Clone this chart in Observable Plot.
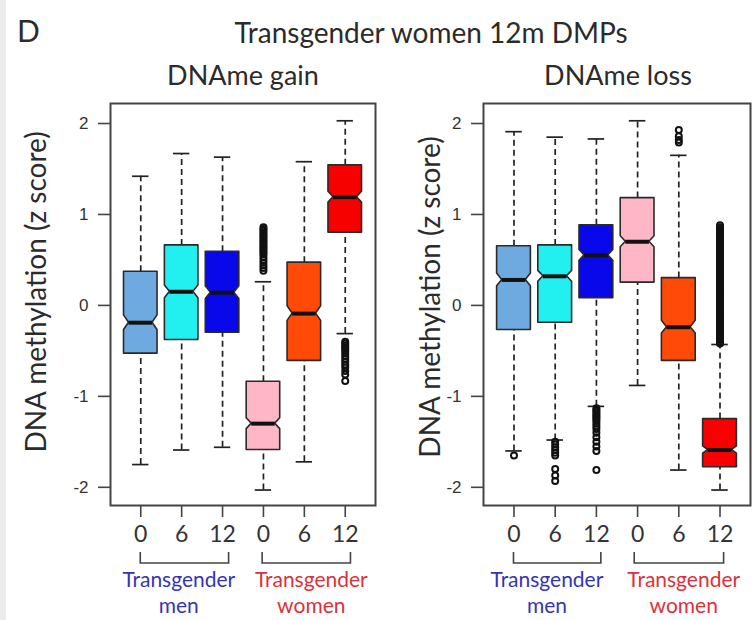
<!DOCTYPE html>
<html>
<head>
<meta charset="utf-8">
<script src="https://cdn.jsdelivr.net/npm/d3@7"></script>
<script src="https://cdn.jsdelivr.net/npm/@observablehq/plot@0.6"></script>
<style>
  body { margin: 0; background: #fff; }
  #wrap { position: relative; width: 755px; height: 620px; overflow: hidden; background: #fff; }
  #edge { position: absolute; left: 0; top: 0; width: 6px; height: 620px; background: #ececec; }
  #left { position: absolute; left: 0; top: 0; }
  #right { position: absolute; left: 380px; top: 0; }
  #overlay { position: absolute; left: 0; top: 0; pointer-events: none; }
  .panel svg g[aria-label^="y-axis"] text { font-family: "Liberation Sans", Arial, sans-serif; font-size: 17px; fill: #333; }
  .panel svg g[aria-label^="x-axis"] text { font-family: Lato, sans-serif; font-size: 23px; fill: #333; }
  .panel svg g[aria-label^="x-axis"] line, .panel svg g[aria-label^="y-axis"] line,
  .panel svg g[aria-label^="x-axis"] path, .panel svg g[aria-label^="y-axis"] path { stroke: #444; stroke-width: 1.6px; }
</style>
</head>
<body>
<div id="wrap">
  <div id="edge"></div>
  <div id="left" class="panel"></div>
  <div id="right" class="panel"></div>
  <svg id="overlay" width="755" height="620"></svg>
</div>
<script>
// ---------- data ----------
const timepoints = ["0", "6", "12", "0", "6", "12"];
const cohortNames = ["Transgender\nmen", "Transgender\nwomen"];

// DNAme gain panel (z score)
const gainLowWhisker  = [-1.75, -1.59, -1.56, -2.03, -1.72, -0.31];
const gainQ1          = [-0.53, -0.38, -0.30, -1.59, -0.61,  0.80];
const gainMedian      = [-0.19,  0.15,  0.14, -1.30, -0.09,  1.19];
const gainQ3          = [ 0.37,  0.66,  0.59, -0.84,  0.47,  1.54];
const gainHighWhisker = [ 1.42,  1.67,  1.63,  0.26,  1.58,  2.03];
const gainNotch       = [ 0.08,  0.07,  0.07,  0.06,  0.08,  0.06];
const gainOutliers = [
  [], [], [],
  [0.38, 0.41, 0.44, 0.47, 0.50, 0.53, 0.56, 0.58, 0.60, 0.62, 0.64, 0.66, 0.68, 0.70, 0.72, 0.74, 0.76, 0.78, 0.80, 0.82, 0.84, 0.86],
  [],
  [-0.40, -0.42, -0.44, -0.46, -0.48, -0.50, -0.53, -0.56, -0.59, -0.62, -0.65, -0.68, -0.72, -0.76, -0.83]
];

// DNAme loss panel (z score)
const lossLowWhisker  = [-1.60, -1.48, -1.11, -0.88, -1.81, -2.03];
const lossQ1          = [-0.27, -0.19,  0.08,  0.25, -0.61, -1.78];
const lossMedian      = [ 0.28,  0.32,  0.55,  0.70, -0.24, -1.59];
const lossQ3          = [ 0.65,  0.66,  0.88,  1.18,  0.30, -1.25];
const lossHighWhisker = [ 1.91,  1.85,  1.83,  2.03,  1.65, -0.43];
const lossNotch       = [ 0.07,  0.06,  0.06,  0.06,  0.07,  0.04];
const lossOutliers = [
  [-1.65],
  [-1.50, -1.53, -1.56, -1.59, -1.62, -1.65, -1.80, -1.87, -1.93],
  [-1.13, -1.15, -1.17, -1.19, -1.21, -1.23, -1.25, -1.27, -1.30, -1.33, -1.36, -1.40, -1.45, -1.50, -1.55, -1.60, -1.81],
  [],
  [1.93, 1.86, 1.82, 1.79],
  [0.88, 0.86, 0.84, 0.82, 0.80, 0.78, 0.76, 0.74, 0.72, 0.70, 0.68, 0.66, 0.64, 0.62, 0.60, 0.58, 0.56, 0.54, 0.52, 0.50,
   0.48, 0.46, 0.44, 0.42, 0.40, 0.38, 0.36, 0.34, 0.32, 0.30, 0.28, 0.26, 0.24, 0.22, 0.20, 0.18, 0.16, 0.14, 0.12, 0.10,
   0.08, 0.06, 0.04, 0.02, 0.00, -0.02, -0.04, -0.06, -0.08, -0.10, -0.12, -0.14, -0.16, -0.18, -0.20, -0.22, -0.24, -0.26,
   -0.28, -0.30, -0.32, -0.34, -0.36, -0.38, -0.40, -0.42]
];

// ---------- styles ----------
const boxColors = ["#6eaadf", "#22f0f0", "#0808ea", "#ffb6c6", "#ff4a08", "#f70000"];
const cohortColors = ["#3535b3", "#d8333c"];

function makePanel(lo, q1, med, q3, hi, notch, outliers, cfg) {
  const w = 0.41, f = 0.7, cap = 0.2;
  const rows = timepoints.map((t, k) => ({
    i: k + 1, lo: lo[k], q1: q1[k], med: med[k], q3: q3[k], hi: hi[k], n: notch[k], color: boxColors[k]
  }));
  const poly = rows.flatMap(d => [
    {i: d.i, color: d.color, y: d.q1,        x1: d.i - w,     x2: d.i + w},
    {i: d.i, color: d.color, y: d.med - d.n, x1: d.i - w,     x2: d.i + w},
    {i: d.i, color: d.color, y: d.med,       x1: d.i - w * f, x2: d.i + w * f},
    {i: d.i, color: d.color, y: d.med + d.n, x1: d.i - w,     x2: d.i + w},
    {i: d.i, color: d.color, y: d.q3,        x1: d.i - w,     x2: d.i + w}
  ]);
  const outs = outliers.flatMap((arr, k) => arr.map(v => ({i: k + 1, v})));
  const groups = cohortNames.map((label, g) => ({label, cx: cfg.labelX[g], color: cohortColors[g]}));

  const plot = Plot.plot({
    width: cfg.width, height: 620,
    marginLeft: cfg.marginLeft, marginRight: 5, marginTop: 103, marginBottom: 115,
    style: {fontFamily: "Lato, sans-serif", background: "transparent", color: "#333"},
    x: {domain: [0.26, 6.74], ticks: 6, tickFormat: d => Number.isInteger(d) ? timepoints[d - 1] : "", tickSize: 12, tickPadding: 8, label: null},
    y: {domain: [-2.2, 2.22], ticks: 5, tickFormat: d => String(d).replace("\u2212", "-"), tickSize: 12, tickPadding: 10, label: null},
    color: {type: "identity"},
    marks: [
      Plot.ruleX(rows, {x: "i", y1: "q3", y2: "hi", stroke: "#222", strokeWidth: 1.7, strokeDasharray: "6,4"}),
      Plot.ruleX(rows, {x: "i", y1: "lo", y2: "q1", stroke: "#222", strokeWidth: 1.7, strokeDasharray: "6,4"}),
      Plot.ruleY(rows, {y: "hi", x1: d => d.i - cap, x2: d => d.i + cap, stroke: "#222", strokeWidth: 1.7}),
      Plot.ruleY(rows, {y: "lo", x1: d => d.i - cap, x2: d => d.i + cap, stroke: "#222", strokeWidth: 1.7}),
      Plot.areaX(poly, {y: "y", x1: "x1", x2: "x2", z: "i", fill: "color", stroke: "#2a2a2a", strokeWidth: 1.6, curve: "linear"}),
      Plot.ruleY(rows, {y: "med", x1: d => d.i - w * f, x2: d => d.i + w * f, stroke: "#111", strokeWidth: 4}),
      Plot.dot(outs, {x: "i", y: "v", r: 3, stroke: "#111", fill: "none", strokeWidth: 2}),
      Plot.frame({stroke: "#444", strokeWidth: 2}),
      Plot.text(groups, {x: "cx", text: "label", fill: "color", frameAnchor: "bottom", dy: 64, lineAnchor: "top",
                         lineHeight: 1.2, fontSize: 21, fontFamily: "Lato, sans-serif"})
    ]
  });

  // group brackets below the axis, positioned with the plot's own x scale
  const xs = plot.scale("x");
  const bottom = 620 - 115;
  const svg = d3.select(plot.tagName.toLowerCase() === "svg" ? plot : plot.querySelector("svg"));
  cfg.spans.forEach(([a, b]) => {
    const xa = xs.apply(a), xb = xs.apply(b);
    svg.append("path")
      .attr("d", `M${xa},${bottom + 47}V${bottom + 58}H${xb}V${bottom + 47}`)
      .attr("fill", "none").attr("stroke", "#444").attr("stroke-width", 1.6);
  });
  return plot;
}

document.getElementById("left").append(
  makePanel(gainLowWhisker, gainQ1, gainMedian, gainQ3, gainHighWhisker, gainNotch, gainOutliers,
            {width: 380, marginLeft: 110, labelX: [1.93, 5.17], spans: [[1, 3.16], [3.98, 6.14]]})
);
document.getElementById("right").append(
  makePanel(lossLowWhisker, lossQ1, lossMedian, lossQ3, lossHighWhisker, lossNotch, lossOutliers,
            {width: 375, marginLeft: 103, labelX: [1.8, 5.12], spans: [[1, 3.12], [3.93, 6.1]]})
);

// ---------- titles ----------
const ov = d3.select("#overlay");
const txt = (x, y, s, size, anchor, rot) => {
  const t = ov.append("text").attr("x", x).attr("y", y).text(s)
    .attr("font-family", "Lato, sans-serif").attr("font-size", size).attr("fill", "#2b2b2b")
    .attr("text-anchor", anchor);
  if (rot) t.attr("transform", `rotate(-90 ${x} ${y})`);
  return t;
};
txt(17, 42, "D", 30, "start");
txt(431, 43, "Transgender women 12m DMPs", 28, "middle");
txt(243, 85, "DNAme gain", 27, "middle");
txt(618, 85, "DNAme loss", 27, "middle");
txt(46, 292, "DNA methylation (z score)", 28, "middle", true);
txt(440, 297, "DNA methylation (z score)", 28, "middle", true);
</script>
</body>
</html>
